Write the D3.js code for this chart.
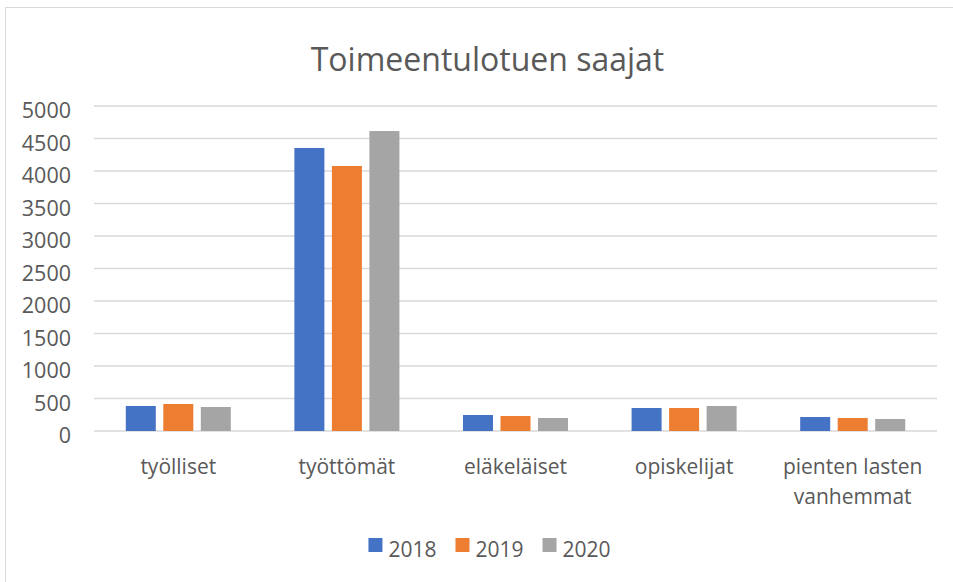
<!doctype html>
<html lang="fi">
<head>
<meta charset="utf-8">
<script src="https://cdn.jsdelivr.net/npm/d3@7"></script>
<style>
body { margin: 0; background: #fff; }
svg text { font-family: "Open Sans", "Noto Sans", sans-serif; fill: #595959; }
</style>
</head>
<body>
<svg id="chart" width="953" height="582"></svg>
<script>
// ---- data ----
var categories = ['työlliset', 'työttömät', 'eläkeläiset', 'opiskelijat', 'pienten lasten vanhemmat']
var years = ['2018', '2019', '2020']
var v2018 = [385, 4354, 246, 354, 215]
var v2019 = [415, 4077, 231, 354, 200]
var v2020 = [369, 4615, 200, 385, 185]
var yTicks = [0, 500, 1000, 1500, 2000, 2500, 3000, 3500, 4000, 4500, 5000]
var colors = ['#4472C4', '#ED7D31', '#A5A5A5']
var series = [v2018, v2019, v2020]

var svg = d3.select('#chart')

// frame
svg.append('rect')
	.attr('x', 5.5).attr('y', 7.5)
	.attr('width', 960).attr('height', 600)
	.attr('fill', 'none').attr('stroke', '#d9d9d9')

// title
svg.append('text')
	.attr('x', 487.5).attr('y', 71)
	.attr('text-anchor', 'middle')
	.style('font-size', '32px')
	.text('Toimeentulotuen saajat')

//---- scales ----
var x0 = d3.scaleBand().domain(categories).range([94, 937])
	.paddingInner(0.377).paddingOuter(0.1885)
var x1 = d3.scaleBand().domain(years).range([0, x0.bandwidth()]).paddingInner(0.2)
var y = d3.scaleLinear().domain([0, 5000]).range([431, 106])

// gridlines
svg.append('g').selectAll('line')
	.data(yTicks).enter()
	.append('line')
	.attr('x1', 94).attr('x2', 937)
	.attr('y1', function (d) { return y(d) }).attr('y2', function (d) { return y(d) })
	.attr('stroke', '#d9d9d9').attr('stroke-width', 1.5)

// y tick labels
svg.append('g').selectAll('text')
	.data(yTicks).enter()
	.append('text')
	.attr('x', 71)
	.attr('y', function (d) { return y(d) + 12 })
	.attr('text-anchor', 'end')
	.style('font-size', '21.5px')
	.text(function (d) { return d })

// bars
years.forEach(function (yr, i) {
	svg.append('g').attr('fill', colors[i])
		.selectAll('rect')
		.data(series[i]).enter()
		.append('rect')
		.attr('x', function (d, j) { return x0(categories[j]) + x1(yr) })
		.attr('width', x1.bandwidth())
		.attr('y', function (d) { return y(d) })
		.attr('height', function (d) { return y(0) - y(d) })
})

// category labels (wrapped to band step)
var catG = svg.append('g')
categories.forEach(function (c) {
	var cx = x0(c) + x0.bandwidth() / 2
	var t = catG.append('text')
		.attr('text-anchor', 'middle')
		.style('font-size', '21px')
	var words = c.split(' ')
	var lines = []
	var line = []
	words.forEach(function (w) {
		line.push(w)
		t.text(line.join(' '))
		if (t.node().getComputedTextLength() > x0.step() - 10 && line.length > 1) {
			line.pop()
			lines.push(line.join(' '))
			line = [w]
		}
	})
	lines.push(line.join(' '))
	t.text(null)
	lines.forEach(function (l, k) {
		t.append('tspan').attr('x', cx).attr('y', 474 + k * 30).text(l)
	})
})

// legend
var leg = svg.append('g')
var lx = 0
years.forEach(function (yr, i) {
	var g = leg.append('g').attr('transform', 'translate(' + lx + ',0)')
	g.append('rect').attr('x', 0).attr('y', 538).attr('width', 14).attr('height', 14).attr('fill', colors[i])
	var t = g.append('text').attr('x', 20).attr('y', 557).style('font-size', '21px').text(yr)
	lx += 20 + t.node().getComputedTextLength() + 19
})
var legW = lx - 19
leg.attr('transform', 'translate(' + (489.5 - legW / 2) + ',0)')
</script>
</body>
</html>
